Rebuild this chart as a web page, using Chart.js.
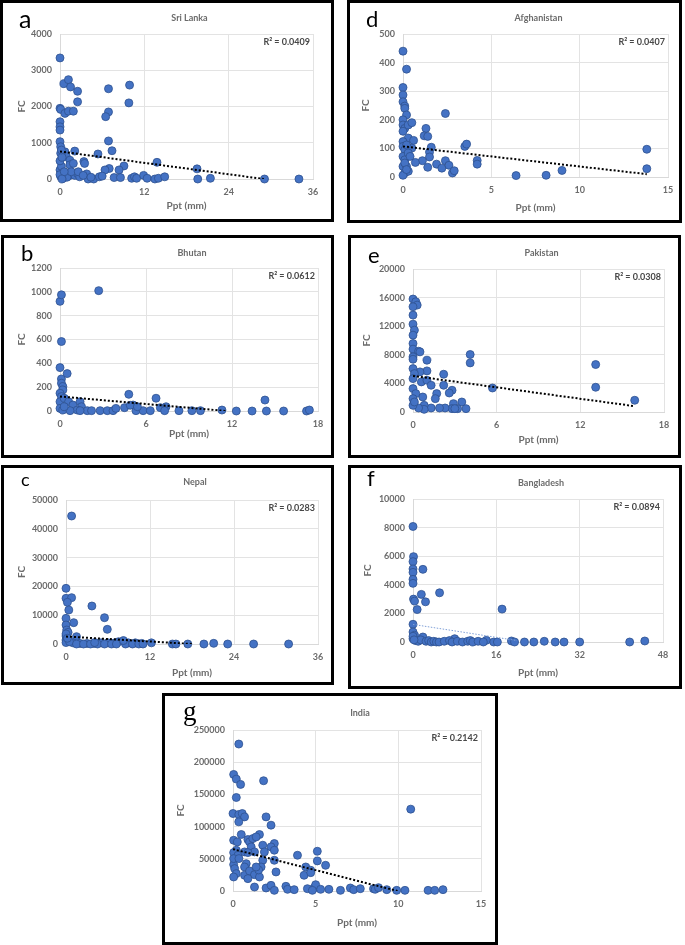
<!DOCTYPE html>
<html>
<head>
<meta charset="utf-8">
<script src="https://cdn.jsdelivr.net/npm/chart.js@4.4.1/dist/chart.umd.min.js"></script>
<style>
  body { margin: 0; background: #fff; width: 685px; height: 945px; position: relative; overflow: hidden; }
  .panel { position: absolute; }
  .panel canvas { position: absolute; left: 0; top: 0; }
  .frame { position: absolute; left: 0; top: 0; right: 0; bottom: 0; border: 3px solid #000; box-sizing: border-box; pointer-events: none; }
  .tag { position: absolute; color: #000; line-height: 1; }
</style>
</head>
<body>
<script>
// ---- data: [Ppt (mm), FC] ----
const sriLanka = [[0,3340],[0.55,2630],[1.2,2740],[1.5,2540],[2.5,2420],[2.5,2130],[0,1950],[0.1,1920],[0.7,1810],[1.2,1870],[1.9,1870],[0,1580],[0,1440],[0,1350],[0,1030],[0.1,890],[0.1,710],[0.7,750],[2.1,770],[0.9,620],[1.4,520],[1.4,390],[1.9,430],[3.4,480],[3.5,430],[5.4,690],[6.9,2490],[6.9,1850],[6.5,1720],[6.9,1050],[7.4,780],[7.0,290],[6.4,250],[9.9,2590],[9.8,2100],[9.1,360],[8.4,250],[7.7,40],[8.6,40],[10.2,20],[10.6,60],[10.9,20],[11.9,100],[12.4,20],[13.8,460],[13.5,0],[14,20],[14.9,60],[19.5,280],[19.6,0],[21.4,20],[29.1,0],[34,0],[0,250],[0.2,350],[0.4,150],[0.8,100],[1.4,100],[2.1,100],[2.5,150],[2.8,60],[3.8,140],[4,0],[4.8,0],[5.6,60],[6,80],[0.1,70],[0.5,30],[1,50],[1.6,200],[2.6,200],[3.3,100],[4.4,50],[0,500],[0.3,600],[0.2,800],[0,120],[0.6,200],[0.3,0]];
const sriLankaTrend = [[0,760],[29,0]];

const afghanistan = [[0,440],[0.2,377],[0,313],[0,287],[0,263],[0.1,248],[0.1,240],[0.2,217],[0,200],[0,182],[0.1,170],[0.3,182],[0.5,190],[0,160],[2.4,222],[1.3,170],[1.2,144],[1.4,142],[0.3,136],[0.6,128],[0,124],[1.6,104],[3.5,107],[3.6,115],[0,107],[0.5,101],[0.1,95],[1.5,87],[1.5,70],[1.1,57],[0.7,51],[1.9,45],[2.2,31],[1.4,34],[2.4,57],[2.6,41],[2.8,14],[2.9,22],[4.2,58],[4.2,45],[6.4,5],[8.1,6],[9,23],[13.8,97],[13.8,29],[0,72],[0.1,60],[0,37],[0.2,37],[0.1,14],[0.3,20],[0,6],[0.1,49],[0.3,84],[0.2,112],[0.4,72],[0.2,26]];
const afghanistanTrend = [[0,107],[13.8,10]];

const bhutan = [[0,920],[0.1,975],[2.7,1010],[0.1,583],[0,364],[0.1,269],[0.5,314],[0.1,233],[0.2,205],[0.2,177],[0,149],[0.1,121],[0,78],[0.3,107],[0.6,78],[0.9,50],[1.4,78],[1.5,36],[1.2,8],[1.9,3],[2.2,3],[2.8,3],[3.3,3],[3.7,3],[3.9,22],[4.5,28],[4.8,140],[5.1,50],[5.3,3],[5.8,3],[6.3,3],[6.7,107],[7,28],[7.4,36],[7.3,3],[8.3,3],[9.2,3],[9.8,3],[11.3,8],[12.3,0],[13.4,0],[14.3,92],[14.4,0],[15.6,0],[17.2,0],[17.4,8],[0,22],[0.2,8],[0.7,3],[0.3,36],[1.4,3],[4.9,48],[5.4,36]];
const bhutanTrend = [[0,122],[11.6,0]];

const pakistan = [[0,15800],[0.2,15420],[0.3,14950],[0,14720],[0,13550],[0,12290],[0.1,11450],[0,10750],[0,9580],[0,8790],[0.4,8500],[0.5,8410],[0,7710],[0,7380],[1,7240],[4.1,8040],[4.1,6870],[13.1,6640],[13.1,3460],[15.9,1640],[5.7,3360],[1,5750],[0.5,5610],[2.2,5280],[0,6070],[0.1,5370],[0.6,4210],[1,4440],[1.3,3740],[2.2,3740],[0,4670],[0,3270],[2.8,3040],[2.6,2660],[1.7,2570],[1.6,1870],[0.7,2100],[0.2,2570],[2.9,1170],[3.5,1400],[3.8,470],[3.2,470],[2.8,470],[2.3,560],[1.9,560],[1.3,560],[0.8,930],[0.8,370],[0.4,560],[0,1870],[0,930],[0.1,1400],[3,470]];
const pakistanTrend = [[0,5050],[15.8,840]];

const nepal = [[0.8,44440],[0,19330],[0,15860],[0.8,16090],[0.2,14470],[3.7,13190],[0.4,11810],[5.5,9140],[0,8910],[1.1,7410],[0,6600],[5.9,5090],[0.1,4860],[0.3,4050],[0,2780],[1.5,2550],[0,1390],[1,400],[2,200],[3,200],[4,200],[5,400],[6,400],[7,400],[7.5,800],[8.9,400],[9.9,400],[10.8,200],[12.2,400],[15.2,0],[15.7,0],[17.4,0],[19.7,0],[21.1,230],[23.1,0],[26.8,0],[31.8,0],[0,500],[0.5,800],[1.5,0],[2.5,0],[3.5,0],[4.5,0],[5.5,0],[6.5,0],[7.2,0],[8.5,0],[9.5,0],[10.4,0],[11,0],[0,3500],[0.2,2000],[8.2,1200],[4.1,500]];
const nepalTrend = [[0,2600],[18,0]];

const bangladesh = [[0,8080],[0.1,5970],[0,5620],[0,5110],[1.9,5080],[0,4870],[0,4380],[0,4100],[5.1,3440],[1.6,3330],[0.1,3000],[0.3,2860],[2.4,2810],[0.8,2270],[17.1,2300],[0,1240],[0,700],[0.3,470],[1.9,350],[0,230],[8,230],[14.1,120],[18.9,70],[21.4,0],[23.2,0],[25.2,50],[27.3,0],[29,0],[32,0],[41.6,0],[44.5,70],[0.5,100],[1,50],[1.5,150],[2.5,50],[3,100],[3.5,0],[4,50],[4.5,0],[5,0],[6,50],[7,100],[7.5,0],[8.5,50],[9.5,0],[10.5,50],[11,100],[11.5,0],[12.5,50],[13.5,0],[15.5,0],[16.2,0],[19.5,0],[0,400],[0.2,150]];
const bangladeshTrend = [[0,1230],[20,100]];

const india = [[0.35,228200],[0.04,181000],[0.2,173800],[0.46,165500],[1.85,171200],[0.2,145200],[0,120300],[0.35,118800],[0.56,120300],[0.7,115100],[2.0,115100],[0.35,107400],[2.3,102200],[10.75,127100],[0.5,87700],[1.6,87700],[0.04,78800],[0.26,76200],[0.9,79900],[1.0,76200],[1.2,81400],[1.4,84000],[2.5,73700],[2.3,68500],[1.8,71100],[2.5,63300],[1.1,68500],[1.3,60700],[0.2,63300],[0.04,59600],[0.3,55500],[0.7,60700],[0.9,59600],[1.9,60700],[3.9,55500],[5.1,61700],[5.1,46700],[5.6,39900],[2.6,29600],[2.5,47700],[1.8,47700],[1.7,37300],[0.8,42500],[0.7,37300],[0.04,41000],[0.1,34800],[0.2,27000],[0.04,21800],[0.7,24400],[1.0,31100],[1.3,25400],[1.6,21800],[1.55,32700],[1.4,37300],[0.9,19200],[1.3,6200],[2.0,4700],[2.3,8800],[2.5,1000],[4.4,37300],[4.3,24400],[4.7,32200],[4.7,28500],[4.5,3600],[4.9,4700],[5.0,9800],[5.3,2600],[5.8,2600],[6.5,1000],[7.1,4700],[7.3,2100],[7.7,3600],[8.5,3600],[8.6,2600],[8.8,5200],[9.3,2100],[9.9,1000],[10.4,1000],[11.8,1000],[12.2,1000],[12.7,2100],[3.2,7300],[3.3,2600],[3.7,2100],[4.8,1000],[0.04,50300],[0.36,50300]];
const indiaTrend = [[0,65000],[9.95,0]];

const countries = ["Sri Lanka", "Afghanistan", "Bhutan", "Pakistan", "Nepal", "Bangladesh", "India"];
const letters = ["a", "d", "b", "e", "c", "f", "g"];
const rSquared = ["0.0409", "0.0407", "0.0612", "0.0308", "0.0283", "0.0894", "0.2142"];
const xMax = [36, 15, 18, 18, 36, 48, 15];
const xStep = [12, 5, 6, 6, 12, 16, 5];
const yMax = [4000, 500, 1200, 20000, 50000, 10000, 250000];
const yStep = [1000, 100, 200, 4000, 10000, 2000, 50000];
const series = [sriLanka, afghanistan, bhutan, pakistan, nepal, bangladesh, india];
const trends = [sriLankaTrend, afghanistanTrend, bhutanTrend, pakistanTrend, nepalTrend, bangladeshTrend, indiaTrend];

// ---- page layout (box = frame, plot = chart area, in page px) ----
const layout = [
  { box: [0, 0, 334, 222],     plot: [60, 34, 313, 179],     titleY: 18,  xTitleY: 206, yTitleX: 22,  tag: [19, 6, 25] },
  { box: [347, 0, 682, 223],   plot: [403, 34, 668, 177],    titleY: 18,  xTitleY: 208, yTitleX: 366, tag: [366, 8, 22] },
  { box: [1, 235, 334, 458],   plot: [60, 268, 318, 411],    titleY: 253, xTitleY: 434, yTitleX: 22,  tag: [21, 242, 22] },
  { box: [348, 235, 681, 458], plot: [413, 269, 664, 412],   titleY: 253, xTitleY: 440, yTitleX: 367, tag: [368, 244, 22] },
  { box: [1, 465, 334, 685],   plot: [66, 500, 318, 644],    titleY: 482, xTitleY: 673, yTitleX: 22,  tag: [21, 470, 18] },
  { box: [348, 465, 682, 689], plot: [413, 499, 663, 642],   titleY: 483, xTitleY: 673, yTitleX: 368, tag: [367, 467, 22] },
  { box: [162, 693, 498, 945], plot: [233, 730, 481, 891],   titleY: 713, xTitleY: 923, yTitleX: 181, tag: [183, 698, 27, "serif"] }
];

const textFont = "Lato, 'Open Sans', sans-serif";
const textGray = "#6b6b6b";

const panelText = {
  id: "panelText",
  afterDraw(chart, args, opts) {
    const { ctx, chartArea: a } = chart;
    ctx.save();
    ctx.font = "bold 9px " + textFont;
    ctx.textBaseline = "middle";
    ctx.textAlign = "center";
    ctx.fillStyle = textGray;
    ctx.fillText(opts.title, (a.left + a.right) / 2 + 3, opts.titleY);
    ctx.textAlign = "right";
    ctx.fillStyle = "#474747";
    ctx.fillText("R\u00B2 = " + opts.r2, a.right - 3, a.top + 8);
    ctx.restore();
  }
};

function makePanel(i) {
  const L = layout[i];
  const [bl, bt, br, bb] = L.box;
  const [pl, pt, pr, pb] = L.plot;
  const w = br - bl, h = bb - bt;

  const div = document.createElement("div");
  div.className = "panel";
  div.style.left = bl + "px"; div.style.top = bt + "px";
  div.style.width = w + "px"; div.style.height = h + "px";
  const canvas = document.createElement("canvas");
  canvas.width = w; canvas.height = h;
  canvas.style.width = w + "px"; canvas.style.height = h + "px";
  div.appendChild(canvas);
  const frame = document.createElement("div");
  frame.className = "frame";
  div.appendChild(frame);
  const tag = document.createElement("div");
  tag.className = "tag";
  tag.textContent = letters[i];
  tag.style.left = (L.tag[0] - bl) + "px";
  tag.style.top = (L.tag[1] - bt) + "px";
  tag.style.fontSize = L.tag[2] + "px";
  tag.style.fontFamily = L.tag[3] === "serif" ? "'Liberation Serif', serif" : "Lato, sans-serif";
  div.appendChild(tag);
  document.body.appendChild(div);

  const tickFont = { family: textFont, size: 9, weight: "bold" };
  const titleFont = { family: textFont, size: 10, weight: "bold" };
  const lh = 12;

  new Chart(canvas, {
    type: "scatter",
    data: {
      datasets: [
        {
          type: "line",
          data: trends[i].map(([x, y]) => ({ x, y })),
          borderColor: i === 5 ? "#7f9fd6" : "#000",
          borderWidth: i === 5 ? 1 : 2,
          borderDash: i === 5 ? [1.5, 1.5] : [2, 2],
          pointRadius: 0,
          fill: false,
          order: 0
        },
        {
          data: series[i].map(([x, y]) => ({ x, y })),
          backgroundColor: "#4472C4",
          borderColor: "#2F528F",
          borderWidth: 0.8,
          pointRadius: 4,
          clip: false,
          order: 1
        }
      ]
    },
    options: {
      responsive: false,
      animation: false,
      layout: { padding: { top: pt - bt, right: br - pr, left: 0, bottom: 0 } },
      plugins: {
        legend: { display: false },
        tooltip: { enabled: false },
        panelText: { title: countries[i], r2: rSquared[i], titleY: L.titleY - bt }
      },
      scales: {
        x: {
          type: "linear", min: 0, max: xMax[i],
          ticks: { stepSize: xStep[i], font: tickFont, color: textGray, padding: 8, callback: v => String(v) },
          grid: { color: "#e3e3e3", drawTicks: false },
          border: { color: "#d9d9d9" },
          title: { display: true, text: "Ppt (mm)", font: titleFont, color: textGray,
                   padding: { top: 0, bottom: bb - L.xTitleY - lh / 2 } },
          afterFit: s => { s.height = bb - pb; }
        },
        y: {
          type: "linear", min: 0, max: yMax[i],
          ticks: { stepSize: yStep[i], font: tickFont, color: textGray, padding: 8, callback: v => String(v) },
          grid: { color: "#e3e3e3", drawTicks: false },
          border: { color: "#d9d9d9" },
          title: { display: true, text: "FC", font: titleFont, color: textGray,
                   padding: { top: L.yTitleX - bl - lh / 2, bottom: 0 } },
          afterFit: s => { s.width = pl - bl; }
        }
      }
    },
    plugins: [panelText]
  });
}

for (let i = 0; i < countries.length; i++) makePanel(i);
</script>
</body>
</html>
